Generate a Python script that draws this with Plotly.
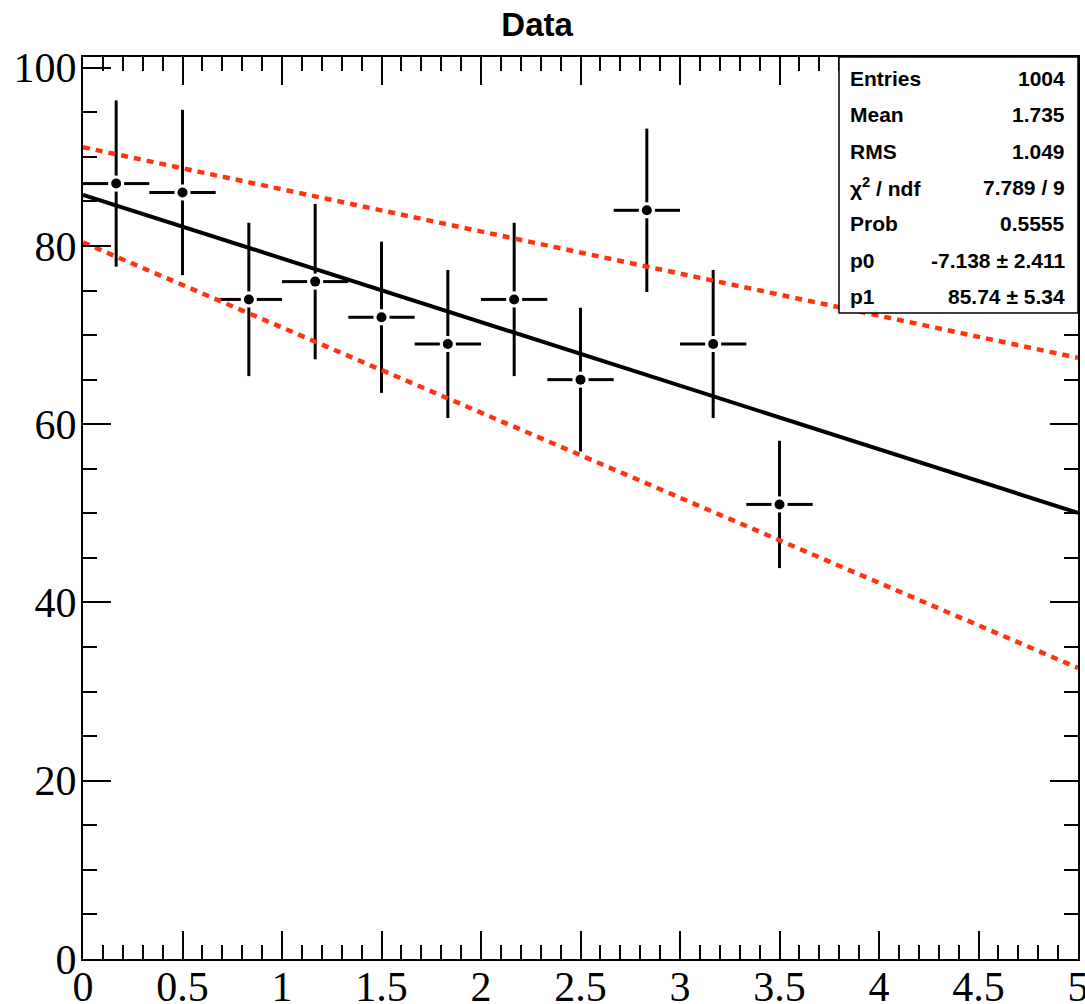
import numpy as np
import plotly.graph_objects as go

# ---- data ----
bin_centers = [0.1667, 0.5, 0.8333, 1.1667, 1.5, 1.8333, 2.1667, 2.5, 2.8333, 3.1667, 3.5]
counts = [87, 86, 74, 76, 72, 69, 74, 65, 84, 69, 51]
bin_width = 1.0 / 3.0

p0, p0_err = -7.138, 2.411
p1, p1_err = 85.74, 5.34

stats_labels = ["Entries", "Mean", "RMS", "χ<sup>2</sup> / ndf", "Prob", "p0", "p1"]
stats_values = ["1004", "1.735", "1.049", "7.789 / 9", "0.5555", "-7.138 ± 2.411", "85.74 ± 5.34"]

x_range = [0, 5]
y_range = [0, 101.2]

# ---- geometry (for marker gap in error bars) ----
W, H = 1085, 1004
ml, mr, mt, mb = 83, 7, 57, 45
px_per_x = (W - ml - mr) / (x_range[1] - x_range[0])
px_per_y = (H - mt - mb) / (y_range[1] - y_range[0])
gap_px = 8
gx = gap_px / px_per_x
gy = gap_px / px_per_y

errs = np.sqrt(np.array(counts, dtype=float))

ex, ey = [], []
for c, n, e in zip(bin_centers, counts, errs):
    # horizontal
    ex += [c - bin_width / 2, c - gx, None, c + gx, c + bin_width / 2, None]
    ey += [n, n, None, n, n, None]
    # vertical
    ex += [c, c, None, c, c, None]
    ey += [n - e, n - gy, None, n + gy, n + e, None]

fig = go.Figure()

fig.add_trace(go.Scatter(x=ex, y=ey, mode="lines",
                         line=dict(color="black", width=3), hoverinfo="skip",
                         showlegend=False))

xf = np.array(x_range, dtype=float)
fig.add_trace(go.Scatter(x=xf, y=p1 + p0 * xf, mode="lines",
                         line=dict(color="black", width=4), showlegend=False))
fig.add_trace(go.Scatter(x=xf, y=(p1 + p1_err) + (p0 + p0_err) * xf, mode="lines",
                         line=dict(color="#ff3311", width=4.5, dash="7px,6px"), showlegend=False))
fig.add_trace(go.Scatter(x=xf, y=(p1 - p1_err) + (p0 - p0_err) * xf, mode="lines",
                         line=dict(color="#ff3311", width=4.5, dash="7px,6px"), showlegend=False))

fig.add_trace(go.Scatter(x=bin_centers, y=counts, mode="markers",
                         marker=dict(color="black", size=10), showlegend=False))

# stats box
box_x0 = (839 - ml) / (W - ml - mr)
box_y0 = (H - mb - 313) / (H - mt - mb)
fig.add_shape(type="rect", xref="paper", yref="paper", x0=box_x0, x1=1, y0=box_y0, y1=1,
              line=dict(color="black", width=1.5), fillcolor="white", layer="above")
row_px = [78, 114, 151, 187, 223, 260, 296]
for lab, val, ypx in zip(stats_labels, stats_values, row_px):
    yp = (H - mb - ypx) / (H - mt - mb)
    fig.add_annotation(xref="paper", yref="paper", x=(848 - ml) / (W - ml - mr), y=yp,
                       text="<b>" + lab + "</b>", showarrow=False, xanchor="left", yanchor="middle",
                       font=dict(family="Liberation Sans", size=21, color="black"))
    fig.add_annotation(xref="paper", yref="paper", x=(1067 - ml) / (W - ml - mr), y=yp,
                       text="<b>" + val + "</b>", showarrow=False, xanchor="right", yanchor="middle",
                       font=dict(family="Liberation Sans", size=21, color="black"))

axis_common = dict(showgrid=False, zeroline=False, showline=True, linecolor="black", linewidth=2,
                   mirror="ticks", ticks="inside", ticklen=28, tickwidth=1.5, tickcolor="black",
                   tickfont=dict(family="Liberation Serif", size=42, color="black"),
                   automargin=False, ticklabeloverflow="allow")

fig.update_xaxes(range=x_range, dtick=0.5, tick0=0, ticklabelstandoff=-10,
                 minor=dict(ticks="inside", ticklen=14, dtick=0.1, tickcolor="black", tickwidth=1.5,
                            showgrid=False),
                 **axis_common)
fig.update_yaxes(range=y_range, dtick=20, tick0=0, ticklabelstandoff=-4,
                 minor=dict(ticks="inside", ticklen=14, dtick=5, tickcolor="black", tickwidth=1.5,
                            showgrid=False),
                 **axis_common)

fig.update_layout(
    width=W, height=H,
    margin=dict(l=ml, r=mr, t=mt, b=mb),
    plot_bgcolor="white", paper_bgcolor="white",
    title=dict(text="<b>Data</b>", x=0.495, xanchor="center", y=1 - 24 / H, yanchor="middle",
               yref="container", font=dict(family="Liberation Sans", size=33, color="black")),
)

fig.write_html("out.html", config={"displayModeBar": False},
               post_script="document.body.style.margin='0';")
